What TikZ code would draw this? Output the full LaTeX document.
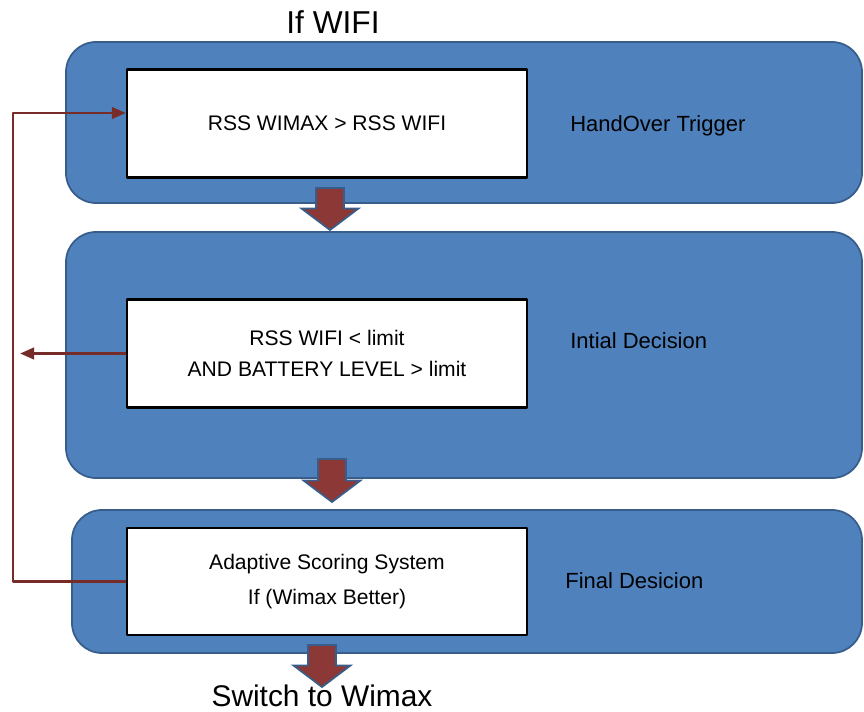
\documentclass[tikz,border=0pt]{standalone}
\usepackage{fontspec}
\setmainfont{Liberation Sans}
\usepackage{tikz}
\usetikzlibrary{arrows.meta,calc}
\usetikzlibrary{positioning}
\definecolor{panelblue}{HTML}{4F81BD}
\definecolor{panelline}{HTML}{385D8A}
\definecolor{fatred}{HTML}{8C3836}
\definecolor{loopred}{HTML}{772C2A}
\tikzset{panel/.style={draw=panelline,line width=1pt,fill=panelblue,rounded corners=0.6cm},
  testbox/.style={draw=black,line width=1.2pt,fill=white,minimum width=8cm,minimum height=2.16cm,align=center,font=\fontsize{12}{18}\selectfont},
  stagelbl/.style={anchor=west,inner sep=0pt,font=\fontsize{12.5}{15}\selectfont},
  fatarr/.style={draw=panelline,line width=1pt,fill=fatred,line join=miter},
  fb/.style={draw=loopred,line width=1.6pt}}
\newcommand{\fatarrow}[2]{\draw[fatarr] ($(#1)+(-0.28,0)$) -- ($(#1)+(0.28,0)$) -- ($(#2)+(0.28,0.43)$) -- ($(#2)+(0.57,0.43)$) -- (#2) -- ($(#2)+(-0.57,0.43)$) -- ($(#2)+(-0.28,0.43)$) -- cycle;}

\begin{document}
\begin{tikzpicture}[>={Triangle[length=8pt,width=6.5pt]},line join=round,font=\fontsize{12}{15}\selectfont]
\useasboundingbox (0,0) rectangle (17.28,14.22);
% --- stages
\draw[panel] (1.32,13.38) rectangle (17.24,10.16);
\draw[panel] (1.32,9.58) rectangle (17.24,4.66);
\draw[panel] (1.44,4.02) rectangle (17.24,1.16);
\node[testbox] (b1) at (6.54,11.75) {RSS WIMAX > RSS WIFI};
\node[testbox] (b2) at (6.54,7.15) {RSS WIFI < limit\\ AND BATTERY LEVEL > limit};
\node[testbox,minimum height=2.14cm,font=\fontsize{12}{20}\selectfont] (b3) at (6.54,2.59) {Adaptive Scoring System\\ If (Wimax Better)};
\node[stagelbl] (l1) at (11.4,11.7) {HandOver Trigger};
\node[stagelbl] (l2) at (11.4,7.4) {Intial Decision};
\node[stagelbl] (l3) at (11.3,2.6) {Final Desicion};
\node[font=\fontsize{18}{20}\selectfont] (start) at (6.66,13.78) {If WIFI};
\node[font=\fontsize{17}{20}\selectfont] (end) at (6.44,0.3) {Switch to Wimax};
% --- fat arrows between stages
\coordinate (a1s) at (6.6,10.46); \coordinate (a1e) at (6.6,9.62);
\coordinate (a2s) at (6.64,5.04); \coordinate (a2e) at (6.64,4.18);
\coordinate (a3s) at (6.44,1.32); \coordinate (a3e) at (6.44,0.48);
\fatarrow{a1s}{a1e}
\fatarrow{a2s}{a2e}
\fatarrow{a3s}{a3e}
% --- loop back
\coordinate (loop) at (0.26,11.96);
\coordinate (out) at (0.4,7.15);
\draw[fb,->] (b3.west) -| (loop) -- (loop -| b1.west);
\draw[fb,->] (b2.west) -- (out);
\end{tikzpicture}
\end{document}
